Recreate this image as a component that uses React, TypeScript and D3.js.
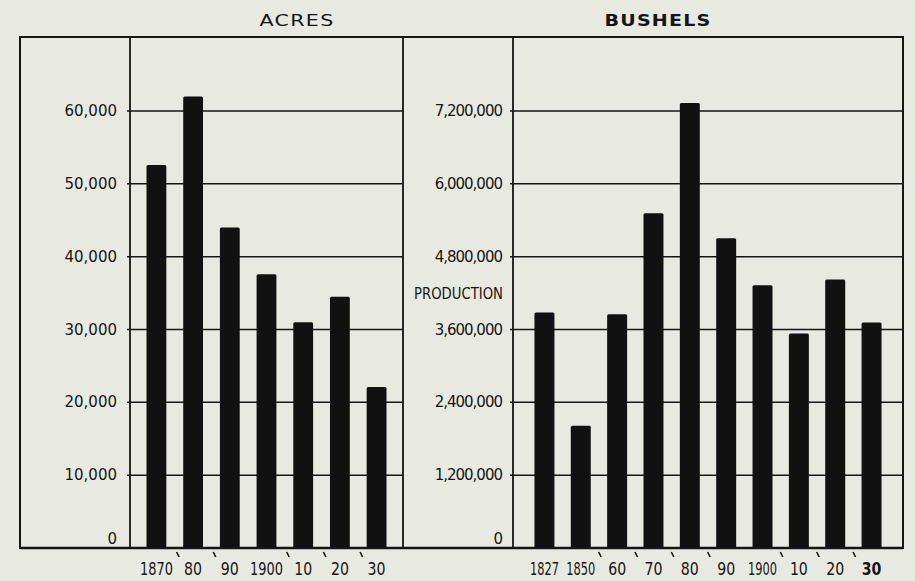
import React from "react";
import * as d3 from "d3";

const acresYears = ["1870", "80", "90", "1900", "10", "20", "30"];
const acresValues = [52600, 62000, 44000, 37600, 31000, 34500, 22100];
const acresTicks = [0, 10000, 20000, 30000, 40000, 50000, 60000];

const bushelYears = ["1827", "1850", "60", "70", "80", "90", "1900", "10", "20", "30"];
const bushelValues = [3880000, 2015000, 3850000, 5515000, 7330000, 5105000, 4330000, 3535000, 4425000, 3715000];
const bushelTicks = [0, 1200000, 2400000, 3600000, 4800000, 6000000, 7200000];

const titles = ["ACRES", "BUSHELS"];
const sideLabel = "PRODUCTION";

export default function App() {
  const W = 915, H = 581;
  const top = 37, bottom = 548, left = 20, right = 903;
  const div1 = 130, div2 = 403, div3 = 513;
  const ink = "#161616";
  const bg = "#e8e9e1";
  const font = "'DejaVu Sans', sans-serif";
  const fmt = d3.format(",");

  const yA = d3.scaleLinear().domain([0, 60000]).range([bottom, 111]);
  const yB = d3.scaleLinear().domain([0, 7200000]).range([bottom, 111]);
  const xA = d3.scaleBand<string>().domain(acresYears.map((d, i) => i + d)).range([div1, div2]).paddingInner(0.46).paddingOuter(0.45);
  const xB = d3.scaleBand<string>().domain(bushelYears.map((d, i) => i + d)).range([div3, right]).paddingInner(0.45).paddingOuter(0.59);

  const fs = 17;
  const xLabel = (labels: string[], x: d3.ScaleBand<string>, markOff: number, boldLast: boolean, longLen: number) =>
    labels.map((d, i) => {
      const cx = x(i + d)! + x.bandwidth() / 2;
      const natural = d.length * 0.636 * fs;
      const target = d.length === 4 ? longLen : 18;
      const sx = target / natural;
      return (
        <g key={i}>
          <g transform={`translate(${cx},569) scale(${sx},1)`}>
            <text x={0} y={0} textAnchor="middle" dominantBaseline="central" fontSize={fs}
              fontFamily={font} fill={ink} fontWeight={boldLast && i === labels.length - 1 ? "bold" : "normal"}>{d}</text>
          </g>
          {d.length === 2 && (
            <line x1={cx + markOff - 1.5} y1={552} x2={cx + markOff + 1} y2={557} stroke={ink} strokeWidth={1.6} />
          )}
        </g>
      );
    });

  return (
    <div style={{ position: "absolute", left: 0, top: 0 }}>
      <svg width={W} height={H} style={{ display: "block", background: bg }}>
        <rect x={0} y={0} width={W} height={H} fill={bg} />
        {/* titles */}
        <text x={297} y={20} textAnchor="middle" dominantBaseline="central" fontSize={16} fontFamily={font}
          fill={ink} fontWeight="normal" textLength={75} lengthAdjust="spacingAndGlyphs" letterSpacing={1}>{titles[0]}</text>
        <text x={658} y={20} textAnchor="middle" dominantBaseline="central" fontSize={16} fontFamily={font}
          fill={ink} fontWeight="bold" textLength={107} lengthAdjust="spacingAndGlyphs" letterSpacing={1}>{titles[1]}</text>

        {/* grid lines */}
        {acresTicks.filter(t => t > 0).map(t => (
          <line key={"ga" + t} x1={div1 - 3} x2={div2} y1={yA(t)} y2={yA(t)} stroke={ink} strokeWidth={1.5} />
        ))}
        {bushelTicks.filter(t => t > 0).map(t => (
          <line key={"gb" + t} x1={div3 - 3} x2={right} y1={yB(t)} y2={yB(t)} stroke={ink} strokeWidth={1.5} />
        ))}

        {/* bars */}
        {acresValues.map((v, i) => (
          <rect key={"a" + i} x={xA(i + acresYears[i])} y={yA(v)} width={xA.bandwidth()} height={yA(0) - yA(v)}
            fill="#111" rx={1.5} />
        ))}
        {bushelValues.map((v, i) => (
          <rect key={"b" + i} x={xB(i + bushelYears[i])} y={yB(v)} width={xB.bandwidth()} height={yB(0) - yB(v)}
            fill="#111" rx={1.5} />
        ))}

        {/* frame */}
        <rect x={left} y={top} width={right - left} height={bottom - top} fill="none" stroke={ink} strokeWidth={2} />
        <line x1={left} x2={right} y1={bottom} y2={bottom} stroke={ink} strokeWidth={2.6} />
        {[div1, div2, div3].map(x => (
          <line key={"d" + x} x1={x} x2={x} y1={top} y2={bottom} stroke={ink} strokeWidth={1.8} />
        ))}

        {/* y labels */}
        {acresTicks.map(t => (
          <text key={"la" + t} x={117} y={t === 0 ? 539 : yA(t)} textAnchor="end" dominantBaseline="central"
            fontSize={15} fontFamily={font} fill={ink}>{fmt(t)}</text>
        ))}
        {bushelTicks.map(t => (
          <text key={"lb" + t} x={502} y={t === 0 ? 539 : yB(t)} textAnchor="end" dominantBaseline="central"
            fontSize={15} fontFamily={font} fill={ink} letterSpacing={-1}>{fmt(t)}</text>
        ))}
        <text x={503} y={294} textAnchor="end" dominantBaseline="central" fontSize={15} fontFamily={font}
          fill={ink} textLength={89} lengthAdjust="spacingAndGlyphs">{sideLabel}</text>

        {/* x labels */}
        {xLabel(acresYears, xA, -15, false, 33)}
        {xLabel(bushelYears, xB, -17, true, 29)}
      </svg>
    </div>
  );
}
